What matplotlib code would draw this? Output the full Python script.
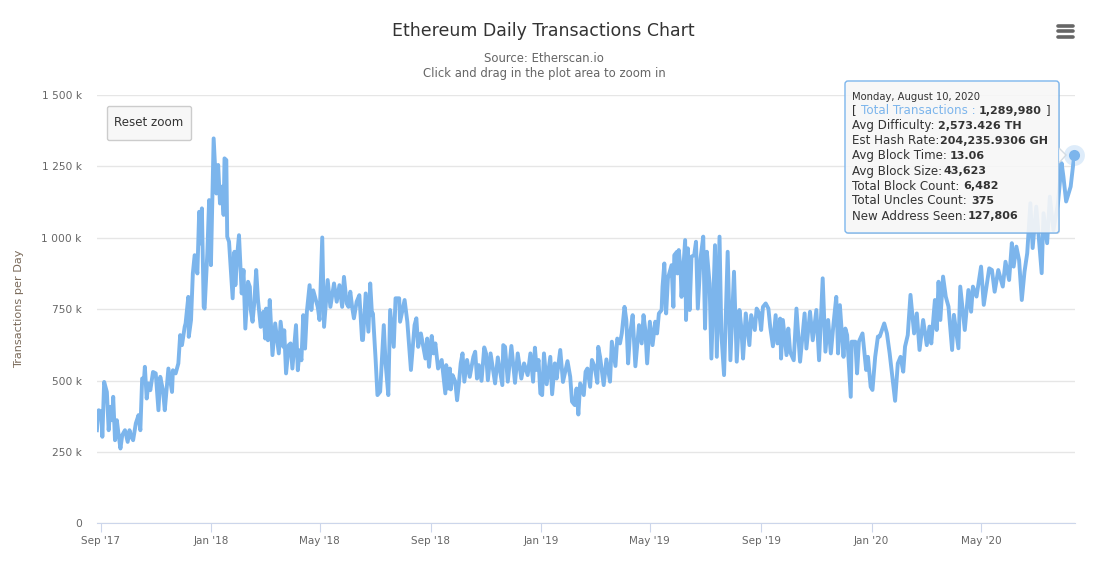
"""
Ethereum daily transactions
data   (day, k)  day counted from 1 Sep 2017, k = transactions per day in thousands
ticks  first day of every fourth month
"""

import numpy as np
import matplotlib.pyplot as plt
from matplotlib.patches import FancyBboxPatch, Polygon

data = [
(-4,326),(-2,396),(1,390),(2,303),(4,495),(7,460),(9,326),(11,408),(13,361),(14,443),(16,291),(18,361),
(20,309),(22,262),(24,309),(27,326),(30,285),(32,326),(34,303),(36,291),(39,350),(42,379),(44,326),(46,507),
(48,502),(49,548),(51,437),(53,490),(55,466),(58,530),(61,525),(64,396),(66,513),(69,466),(71,396),(75,542),
(79,460),(80,536),(83,525),(86,560),(88,659),(90,624),(93,688),(94,700),(97,793),(97.5,653),(100,712),(102,875),
(104,939),(107,875),(109,1091),(111,980),(112,1103),(114,758),(115,752),(118,945),(120,1132),(122,904),(125,1348),
(128,1155),(130,1255),(132,1120),(134,1179),(136,1080),(137,1278),(139,1272),(140,1004),(142,986),(146,788),
(148,951),(149,834),(151,939),(153,1009),(156,805),(158,887),(160,682),(163,846),(165,828),(166,747),(168,706),
(170,776),(172,887),(174,782),(177,688),(180,741),(182,647),(183,752),(185,641),(187,782),(190,589),(193,700),
(197,595),(199,706),(202,618),(203,676),(205,525),(208,624),(210,630),(212,542),(216,694),(218,536),(220,606),
(222,571),(224,729),(226,612),(228,741),(231,834),(233,747),(235,816),(238,782),(240,758),(242,712),(245,1001),
(247,688),(251,852),(254,758),(258,840),(261,776),(264,834),(267,758),(269,863),(272,770),(274,758),
(276,811),(278,758),(280,718),(283,776),(286,799),(289,642),(290,642),(293,805),(296,671),(298,840),(300,729),
(301,735),(303,630),(304,572),(306,449),(309,461),(313,694),(315,560),(318,449),(320,747),(324,618),(326,788),
(330,788),(331,706),(336,782),(339,706),(343,537),(347,694),(349,718),(351,618),(354,665),(359,577),(361,647),
(363,548),(366,656),(368,595),(370,630),(373,542),(377,572),(381,455),(382,554),(384,472),(386,542),(387,469),
(389,519),(392,496),(394,431),(396,490),(398,560),(400,595),(402,496),(405,572),(408,513),(412,583),(414,601),
(416,507),(418,554),(421,499),(424,616),(426,595),(428,501),(431,595),(436,490),(439,581),(444,484),(445,624),
(447,618),(450,496),(454,621),(458,492),(461,595),(465,507),(468,560),(472,519),(475,595),(478,496),(480,615),
(482,537),(484,572),(486,455),(488,449),(490,595),(493,487),(497,583),(499,452),(502,560),(504,507),(508,607),
(511,495),(516,568),(519,513),(521,426),(524,414),(526,472),(528,381),(530,490),(534,449),(536,531),(538,542),
(541,478),(543,572),(546,548),(549,492),(550,618),(552,583),(556,484),(559,574),(563,496),(565,636),(569,551),
(571,647),
(574,630),(576,665),(579,758),(581,712),(583,560),(585,659),(588,729),(591,550),(595,694),(598,630),(600,729),
(602,677),(604,560),(607,706),(610,624),(613,706),(615,665),(617,735),(620,747),(621,828),(623,910),(625,735),
(627,858),(631,904),(633,758),(634,939),(637,951),(637.5,875),(639,957),(641,887),(642,793),(646,992),(647,712),
(649,963),(651,747),(653,934),(656,939),(658,986),(660,752),(663,928),(666,1004),(668,682),(670,951),(673,840),
(675,577),(679,974),(681,583),(684,1004),(686,665),(689,519),(693,951),(696,571),(700,881),(703,566),(706,747),
(708,688),(710,577),(713,735),(717,624),(719,729),(723,677),(725,752),(728,735),(730,677),(732,758),(735,770),
(738,752),(740,688),(743,620),(746,729),(748,630),(751,717),(752,577),(754,712),(758,589),(760,682),(762,600),
(766,571),(769,752),(773,566),(778,735),(780,612),(784,741),(787,641),(791,747),(794,571),(798,858),(801,601),
(804,712),(807,595),(810,700),(813,793),(815,595),(817,764),(821,583),(823,682),(825,659),(829,443),(830,636),
(834,636),(836,525),(838,636),
(842,665),(846,537),(848,583),(851,478),(853,467),(856,583),(859,654),(861,654),(866,700),(869,665),(872,595),
(875,513),(878,429),(881,560),(884,583),(887,531),(889,619),(892,659),(895,800),(899,665),(902,735),(905,607),
(909,712),(913,624),(916,689),(918,630),(922,782),(924,677),(926,846),(928,712),(931,864),(934,794),(937,759),
(941,607),(943,730),(948,613),(950,829),(955,677),(959,817),(962,741),(964,829),(968,794),(973,899),(976,765),
(979,829),(982,893),(985,887),(988,811),(992,887),(997,829),(1000,916),(1004,852),(1007,981),(1009,899),
(1012,969),(1015,922),(1018,782),(1021,881),(1024,946),(1027.5,1121),(1030,964),(1034,1109),(1040,876),
(1042,1086),(1046,981),(1049,1144),(1053,1027),(1058,1121),(1062,1261),(1064,1214),(1067,1127),(1072,1179),
(1075,1261),(1076,1290)
]
data = np.array(data)

ticks = [0, 122, 242, 365, 487, 607, 730, 852, 973]   # first day of month
months = ["Sep '17", "Jan '18", "May '18", "Sep '18", "Jan '19", "May '19", "Sep '19", "Jan '20", "May '20"]

plt.figure(figsize=(10.95, 5.76), dpi=100)

plt.axes([97/1095, 52.7/576, 978/1095, 428.3/576])
plt.plot(data[:, 0], data[:, 1], '-', color='#7cb5ec', linewidth=2.8, solid_joinstyle='round')
plt.plot(data[-1, 0], data[-1, 1], 'o', color='#7cb5ec', markersize=15, alpha=0.25, markeredgewidth=0, clip_on=False)  # halo
plt.plot(data[-1, 0], data[-1, 1], 'o', color='#7cb5ec', markersize=8, markeredgewidth=0, clip_on=False)
plt.xlim(-3.9, 1076.8)
plt.ylim(0, 1500)
plt.xticks(ticks, months, fontsize=7.5, color='#666666')
plt.yticks([0, 250, 500, 750, 1000, 1250, 1500], ['0', '250 k', '500 k', '750 k', '1 000 k', '1 250 k', '1 500 k'], fontsize=7.7, color='#666666')
plt.ylabel('Transactions per Day', fontsize=8.1, color='#7a6a5a')
plt.gca().yaxis.set_label_coords(-0.0746, 0.5)
plt.grid(axis='y', color='#e6e6e6', linewidth=1)
plt.gca().set_axisbelow(True)
plt.tick_params(axis='y', length=0, pad=11)
plt.tick_params(axis='x', length=6.5, width=0.8, color='#ccd6eb', pad=3)
for side in ['left', 'right', 'top']:
    plt.gca().spines[side].set_visible(False)
plt.gca().spines['bottom'].set_color('#ccd6eb')

# second axes over the whole figure, one unit is one pixel
plt.axes([0, 0, 1, 1], facecolor='none')
plt.xlim(0, 1095)
plt.ylim(576, 0)
plt.axis('off')

plt.text(543, 31, 'Ethereum Daily Transactions Chart', fontsize=12.5, color='#333333', ha='center', va='center')
plt.text(544, 58, 'Source: Etherscan.io', fontsize=8.4, color='#666666', ha='center', va='center')
plt.text(544, 73, 'Click and drag in the plot area to zoom in', fontsize=8.4, color='#666666', ha='center', va='center')

for y in [25.5, 31, 36.5]:  # menu icon
    plt.plot([1057.5, 1072.5], [y, y], '-', color='#666666', linewidth=2.6, solid_capstyle='round')

plt.gca().add_patch(FancyBboxPatch((107.5, 106.5), 84, 34, boxstyle='round,pad=0,rounding_size=2', facecolor='#f7f7f7', edgecolor='#cccccc', linewidth=1))
plt.text(149, 122, 'Reset zoom', fontsize=8.6, color='#333333', ha='center', va='center')

# tooltip
plt.gca().add_patch(FancyBboxPatch((846, 82), 214, 152, boxstyle='round,pad=0,rounding_size=3', facecolor='#000000', edgecolor='none', alpha=0.12))
plt.gca().add_patch(FancyBboxPatch((845, 81), 214, 152, boxstyle='round,pad=0,rounding_size=3', facecolor='#fbfbfb', edgecolor='none', alpha=0.88))
plt.gca().add_patch(FancyBboxPatch((845, 81), 214, 152, boxstyle='round,pad=0,rounding_size=3', facecolor='none', edgecolor='#7cb5ec', linewidth=1))
plt.gca().add_patch(Polygon([(1059, 148), (1066, 155), (1059, 163)], closed=False, facecolor='#fbfbfb', edgecolor='#cfd8e0', linewidth=1, alpha=0.88))

plt.text(852, 96.5, 'Monday, August 10, 2020', fontsize=7.2, color='#333333', va='center')
plt.text(852, 111, '[', fontsize=8.6, color='#333333', va='center')
plt.text(861, 111, 'Total Transactions :', fontsize=8.6, color='#7cb5ec', va='center')
plt.text(979, 111, '1,289,980', fontsize=8, color='#333333', va='center', fontweight='bold')
plt.text(1046, 111, ']', fontsize=8.6, color='#333333', va='center')

rows = [
['Avg Difficulty:', '2,573.426 TH', 938.5, 126],
['Est Hash Rate:', '204,235.9306 GH', 939.5, 141],
['Avg Block Time:', '13.06', 950, 156],
['Avg Block Size:', '43,623', 944, 171],
['Total Block Count:', '6,482', 963, 186],
['Total Uncles Count:', '375', 971, 200.5],
['New Address Seen:', '127,806', 968, 216]
]
for name, value, x, y in rows:
    plt.text(852, y, name, fontsize=8.6, color='#333333', va='center')
    plt.text(x, y, value, fontsize=8, color='#333333', va='center', fontweight='bold')

plt.savefig('out.png', dpi=100)
